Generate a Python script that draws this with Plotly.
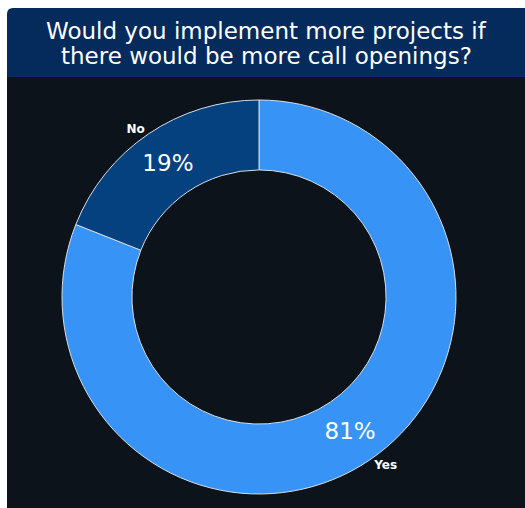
import plotly.graph_objects as go

# Survey answers
answers = ["Yes", "No"]
shares = [81, 19]
slice_colors = ["#3794f6", "#05407f"]

title_lines = ["Would you implement more projects if",
               "there would be more call openings?"]

W, H = 525, 508
ML, MT = 7, 8
pw, ph = W - ML, H - MT

banner_px = 69
y_split = 1 - banner_px / ph
rx, ry = 6 / pw, 6 / ph

# donut placement (page pixels -> paper fractions)
cx, cy, rad = 259, 297, 197
dom_x = [(cx - rad - ML) / pw, (cx + rad - ML) / pw]
dom_y = [(H - cy - rad) / ph, (H - cy + rad) / ph]

fig = go.Figure()

# ring with percentages inside
fig.add_trace(go.Pie(
    labels=answers, values=shares, hole=0.645, sort=False,
    direction="clockwise", rotation=0,
    marker=dict(colors=slice_colors, line=dict(color="#d6dde6", width=1)),
    texttemplate="%{percent:.0%}", textposition="inside",
    insidetextorientation="horizontal",
    textfont=dict(family="DejaVu Sans", size=23, color="white"),
    domain=dict(x=dom_x, y=dom_y),
    showlegend=False, hoverinfo="label+percent",
))

# transparent copy carrying the category names outside the ring
fig.add_trace(go.Pie(
    labels=answers, values=shares, hole=0.645, sort=False,
    direction="clockwise", rotation=0,
    marker=dict(colors=["rgba(0,0,0,0)"] * len(answers),
                line=dict(color="rgba(0,0,0,0)", width=0)),
    texttemplate="<b>%{label}</b>", textposition="outside",
    textfont=dict(family="DejaVu Sans", size=12, color="white"),
    domain=dict(x=dom_x, y=dom_y),
    showlegend=False, hoverinfo="skip",
))

banner_path = (
    f"M 0,{y_split} L 0,{1 - ry} Q 0,1 {rx},1 L 1,1 L 1,{y_split} Z"
)

# heading: one annotation per line for tight line spacing
line_mid_px = [31, 56]
heading = [
    dict(text=t, xref="paper", yref="paper", x=0.5, xanchor="center",
         y=(H - py) / ph, yanchor="middle", showarrow=False,
         font=dict(family="DejaVu Sans", size=23, color="white"))
    for t, py in zip(title_lines, line_mid_px)
]

fig.update_layout(
    width=W, height=H,
    margin=dict(l=ML, r=0, t=MT, b=0),
    paper_bgcolor="white",
    plot_bgcolor="white",
    shapes=[
        dict(type="rect", xref="paper", yref="paper", x0=0, x1=1, y0=0, y1=y_split,
             fillcolor="#0d131a", line=dict(width=0), layer="below"),
        dict(type="path", xref="paper", yref="paper", path=banner_path,
             fillcolor="#042b5c", line=dict(width=0), layer="below"),
    ],
    annotations=heading,
)

fig.write_html("out.html")
